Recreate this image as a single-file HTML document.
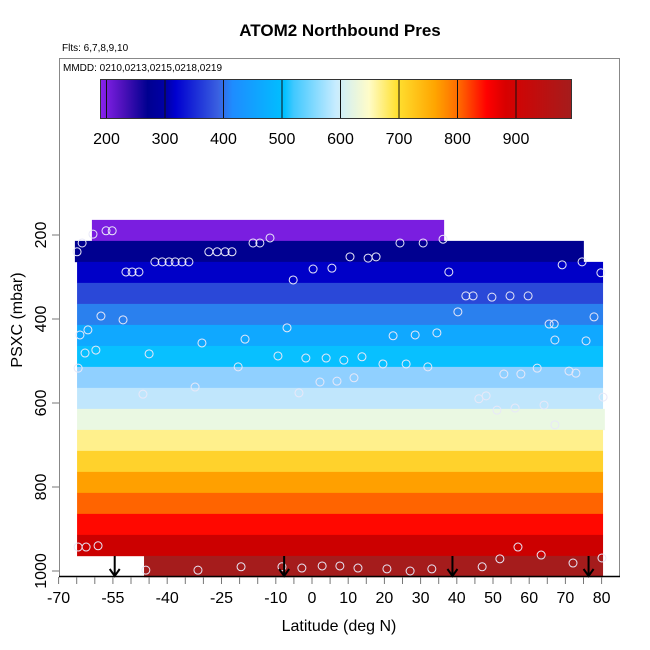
<!DOCTYPE html>
<html><head><meta charset="utf-8"><style>
body{margin:0;background:#fff}
svg{display:block;font-family:"Liberation Sans",sans-serif}
</style></head><body>
<svg id="chart" width="650" height="650" viewBox="0 0 650 650" xmlns="http://www.w3.org/2000/svg">
<defs>
<linearGradient id="cbar" x1="0" x2="1" y1="0" y2="0">
<stop offset="0" stop-color="#8a22ee"/>
<stop offset="0.05" stop-color="#4a10b8"/>
<stop offset="0.1" stop-color="#000090"/>
<stop offset="0.14" stop-color="#0000a8"/>
<stop offset="0.16" stop-color="#0000d0"/>
<stop offset="0.25" stop-color="#3a60e0"/>
<stop offset="0.28" stop-color="#1e8cff"/>
<stop offset="0.39" stop-color="#00c0ff"/>
<stop offset="0.41" stop-color="#40c8ff"/>
<stop offset="0.5" stop-color="#c8ecff"/>
<stop offset="0.57" stop-color="#fffcc8"/>
<stop offset="0.63" stop-color="#ffe030"/>
<stop offset="0.71" stop-color="#ffa500"/>
<stop offset="0.76" stop-color="#ff6a00"/>
<stop offset="0.82" stop-color="#ff0000"/>
<stop offset="0.86" stop-color="#d80000"/>
<stop offset="1" stop-color="#a51c1c"/>
</linearGradient>
</defs>
<text x="340" y="36" text-anchor="middle" font-size="17" font-weight="bold">ATOM2 Northbound Pres</text>
<text x="62" y="51" font-size="10">Flts: 6,7,8,9,10</text>
<rect x="59.5" y="58.5" width="560" height="518" fill="none" stroke="#888" stroke-width="1"/>
<text x="63" y="71" font-size="10">MMDD: 0210,0213,0215,0218,0219</text>
<g id="bands"></g>
<g id="points"></g>
<g id="arrows"></g>
<g id="axes"></g>
<g id="colorbar">
<rect x="100.5" y="79.5" width="471" height="39" fill="url(#cbar)" stroke="#333" stroke-width="1"/>
</g>
<text x="339" y="631" text-anchor="middle" font-size="16">Latitude (deg N)</text>
<text transform="translate(22,320) rotate(-90)" text-anchor="middle" font-size="16">PSXC (mbar)</text>
</svg>
<script>
const bandPres=[189,239,289,339,389,439,489,539,589,639,689,739,789,839,889,939,989];
const bandColors=["#7a1ee0","#000090","#0000c8","#2a48d8","#2a80ee","#10a8ff","#08c0ff","#90d0ff","#c0e6fc","#eaf8e2","#fff08c","#ffd22c","#ffa000","#ff6400","#ff0800","#cc0000","#a51c1c"];
const bandLatMin=[-60.8,-65.5,-64.9,-64.9,-64.9,-64.9,-64.9,-64.9,-64.9,-64.9,-64.9,-64.9,-64.9,-64.9,-64.9,-64.9,-46.4];
const bandLatMax=[36.5,75.1,80.4,80.4,80.4,80.4,80.4,80.4,80.4,80.9,80.4,80.4,80.4,80.4,80.4,80.4,80.4];
const ptLat=[-60.5,-56.9,-55.2,-63.5,-64.9,-51.4,-49.7,-47.8,-43.4,-41.4,-39.5,-37.8,-35.9,-34.0,-28.5,-26.2,-24.0,-22.1,-16.3,-14.4,-11.6,0.3,-5.2,5.5,10.5,15.5,17.7,24.3,30.7,36.2,37.8,69.1,74.6,79.8,42.5,44.5,49.7,54.7,59.7,40.3,77.9,65.5,66.9,22.4,28.5,34.5,67.1,75.7,3.9,8.8,13.8,19.6,26.0,32.0,2.2,6.9,11.6,53.0,57.7,62.2,71.0,72.9,46.1,48.1,51.1,56.1,64.1,80.4,67.1,56.9,63.3,51.9,72.1,80.1,47.0,33.1,27.1,20.7,12.7,7.7,2.8,-58.3,-52.2,-64.1,-61.9,-6.9,-18.5,-30.4,-62.7,-59.7,-45.0,-9.4,-1.7,-64.6,-20.4,-32.3,-46.7,-3.6,-64.6,-62.4,-59.1,-45.9,-31.5,-19.6,-8.3,-2.8];
const ptPres=[198,190,190,219,240,288,288,288,264,264,264,264,264,264,240,240,240,240,219,219,207,281,307,279,252,255,252,219,219,210,288,271,264,290,345,345,348,345,345,383,395,412,412,440,438,433,450,452,493,498,490,507,507,514,550,548,540,531,531,517,524,529,590,583,617,612,605,586,652,943,962,971,981,969,990,995,1000,995,993,988,988,393,402,438,426,421,448,457,481,474,483,488,493,517,514,562,579,576,943,943,940,998,998,990,990,993];
const arrowLat=[-54.5,-7.7,38.8,76.4];
const xTicks=[-70,-65,-60,-55,-50,-45,-40,-35,-30,-25,-20,-15,-10,-5,0,5,10,15,20,25,30,35,40,45,50,55,60,65,70,75,80];
const xLabels=[-70,-55,-40,-25,-10,0,10,20,30,40,50,60,70,80];
const yLabels=[200,400,600,800,1000];
const cbLabels=[200,300,400,500,600,700,800,900];

const NS="http://www.w3.org/2000/svg";
function X(lat){return 312+lat*3.62;}
function Y(p){return 235+(p-200)*0.42;}
function CB(p){return 106.5+(p-200)*0.585;}
function mk(tag,attrs,parent){const e=document.createElementNS(NS,tag);for(const k in attrs)e.setAttribute(k,attrs[k]);parent.appendChild(e);return e;}

const gb=document.getElementById('bands');
bandPres.forEach((p,i)=>{
  const r=mk('rect',{x:X(bandLatMin[i]),y:Y(p-25),width:X(bandLatMax[i])-X(bandLatMin[i]),height:Y(p+25)-Y(p-25)+0.3,fill:bandColors[i]},gb);
  
  
});
const gp=document.getElementById('points');
ptLat.forEach((l,i)=>{
  const c=mk('circle',{cx:X(l),cy:Y(ptPres[i]),r:4,fill:'none',stroke:'#e8e8f8','stroke-width':1},gp);
  
  
});
const ga=document.getElementById('arrows');
arrowLat.forEach(l=>{
  const x=X(l);
  const a=mk('path',{d:`M${x},556 L${x},576 M${x-5},569 L${x},576 L${x+5},569`,stroke:'#000','stroke-width':2,fill:'none'},ga);
  
  
});
const gx=document.getElementById('axes');
mk('line',{x1:59,y1:576.5,x2:620,y2:576.5,stroke:'#000','stroke-width':1.5},gx);
xTicks.forEach(t=>{mk('line',{x1:X(t),y1:577,x2:X(t),y2:584,stroke:'#777','stroke-width':1},gx);});
xLabels.forEach(t=>{
  const tx=mk('text',{x:X(t),y:603,'text-anchor':'middle','font-size':16},gx);
  tx.textContent=t;
  
  
});
yLabels.forEach(t=>{
  mk('line',{x1:52,y1:Y(t),x2:59,y2:Y(t),stroke:'#777','stroke-width':1},gx);
  const tx=mk('text',{x:0,y:0,'text-anchor':'middle','font-size':16,transform:`translate(46,${Y(t)}) rotate(-90)`},gx);
  tx.textContent=t;
  
  
});
const gc=document.getElementById('colorbar');
cbLabels.forEach(t=>{
  mk('line',{x1:CB(t),y1:80,x2:CB(t),y2:118,stroke:'#111','stroke-width':1},gc);
  const tx=mk('text',{x:CB(t),y:144,'text-anchor':'middle','font-size':16},gc);
  tx.textContent=t;
  
  
});
</script>
</body></html>
